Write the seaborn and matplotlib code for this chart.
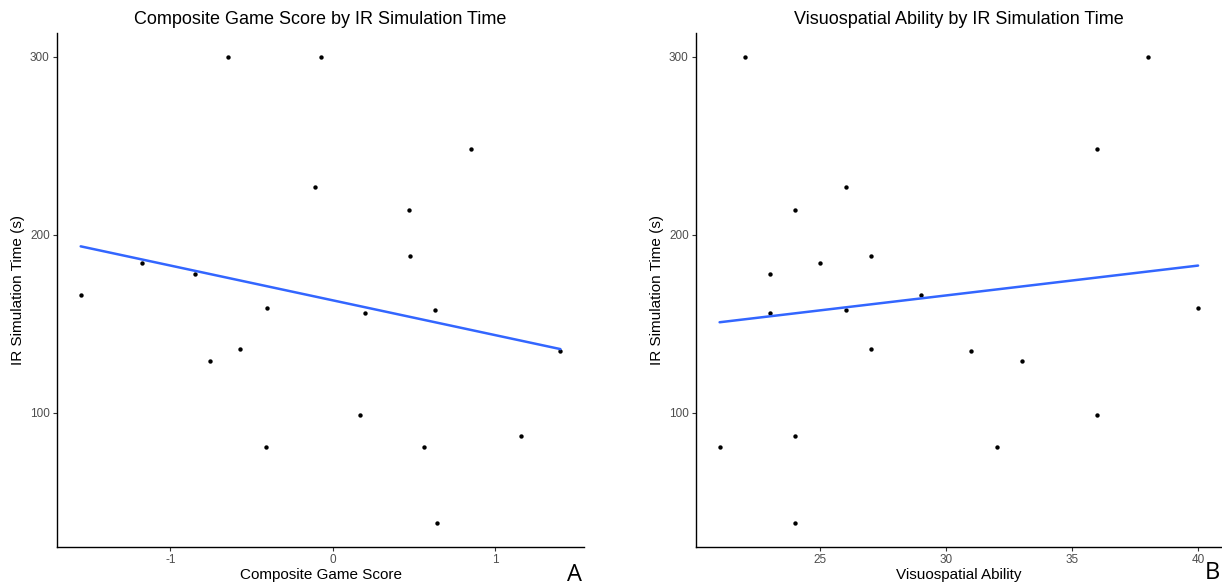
import numpy as np
import pandas as pd
import seaborn as sns
import matplotlib
matplotlib.use("Agg")
import matplotlib.pyplot as plt

# Values
ir_time = [300, 300, 248, 227, 214, 188, 184, 178, 166, 159, 158, 156, 136, 135, 129, 99, 87, 81, 81, 38]
composite_score = [-0.645, -0.075, 0.852, -0.108, 0.466, 0.475, -1.172, -0.849, -1.551, -0.407,
                   0.628, 0.20, -0.569, 1.40, -0.758, 0.165, 1.158, -0.412, 0.558, 0.64]
visuospatial = [22, 38, 36, 26, 24, 27, 25, 23, 29, 40, 26, 23, 27, 31, 33, 36, 24, 21, 32, 24]

df = pd.DataFrame({"time": ir_time, "composite": composite_score, "visuo": visuospatial})

sns.set_theme(style="ticks")
plt.rcParams["font.family"] = ["Liberation Sans", "DejaVu Sans"]
plt.rcParams["axes.unicode_minus"] = False
plt.rcParams["text.color"] = "black"
plt.rcParams["axes.labelcolor"] = "black"

fig = plt.figure(figsize=(12.22, 5.88), dpi=100)
ax1 = fig.add_axes([0.0464, 0.0702, 0.4318, 0.8732])
ax2 = fig.add_axes([0.5693, 0.0702, 0.4307, 0.8732])


def expand(vals, frac=0.05):
    lo, hi = min(vals), max(vals)
    pad = (hi - lo) * frac
    return lo - pad, hi + pad


panels = [
    (ax1, "composite", "Composite Game Score by IR Simulation Time", "Composite Game Score", [-1, 0, 1], "A"),
    (ax2, "visuo", "Visuospatial Ability by IR Simulation Time", "Visuospatial Ability", [25, 30, 35, 40], "B"),
]

for ax, col, title, xlabel, xticks, letter in panels:
    sns.regplot(data=df, x=col, y="time", ax=ax, ci=None,
                scatter_kws={"s": 10, "color": "black", "linewidths": 0, "alpha": 1},
                line_kws={"color": "#3366FF", "lw": 1.8})
    ax.set_xlim(*expand(df[col]))
    ax.set_ylim(*expand(df["time"]))
    ax.set_xticks(xticks)
    ax.set_yticks([100, 200, 300])
    ax.set_title(title, fontsize=13, pad=7, color="black")
    ax.set_xlabel(xlabel, fontsize=11)
    ax.set_ylabel("IR Simulation Time (s)", fontsize=11)
    ax.xaxis.set_label_coords(0.5, -0.055)
    ax.xaxis.label.set_va("center")
    ax.yaxis.set_label_coords(-0.0735, 0.5)
    ax.yaxis.label.set_va("center")
    ax.tick_params(labelsize=8.5, labelcolor="#4D4D4D", color="#333333", length=3, width=0.8, pad=2)
    for s in ["top", "right"]:
        ax.spines[s].set_visible(False)
    for s in ["left", "bottom"]:
        ax.spines[s].set_color("black")
        ax.spines[s].set_linewidth(1.0)

fig.text(0.4705, 0.022, "A", fontsize=17, family="Open Sans", ha="center", va="center")
fig.text(0.9918, 0.026, "B", fontsize=17, family="Open Sans", ha="center", va="center")

fig.savefig("out.png", dpi=100)
